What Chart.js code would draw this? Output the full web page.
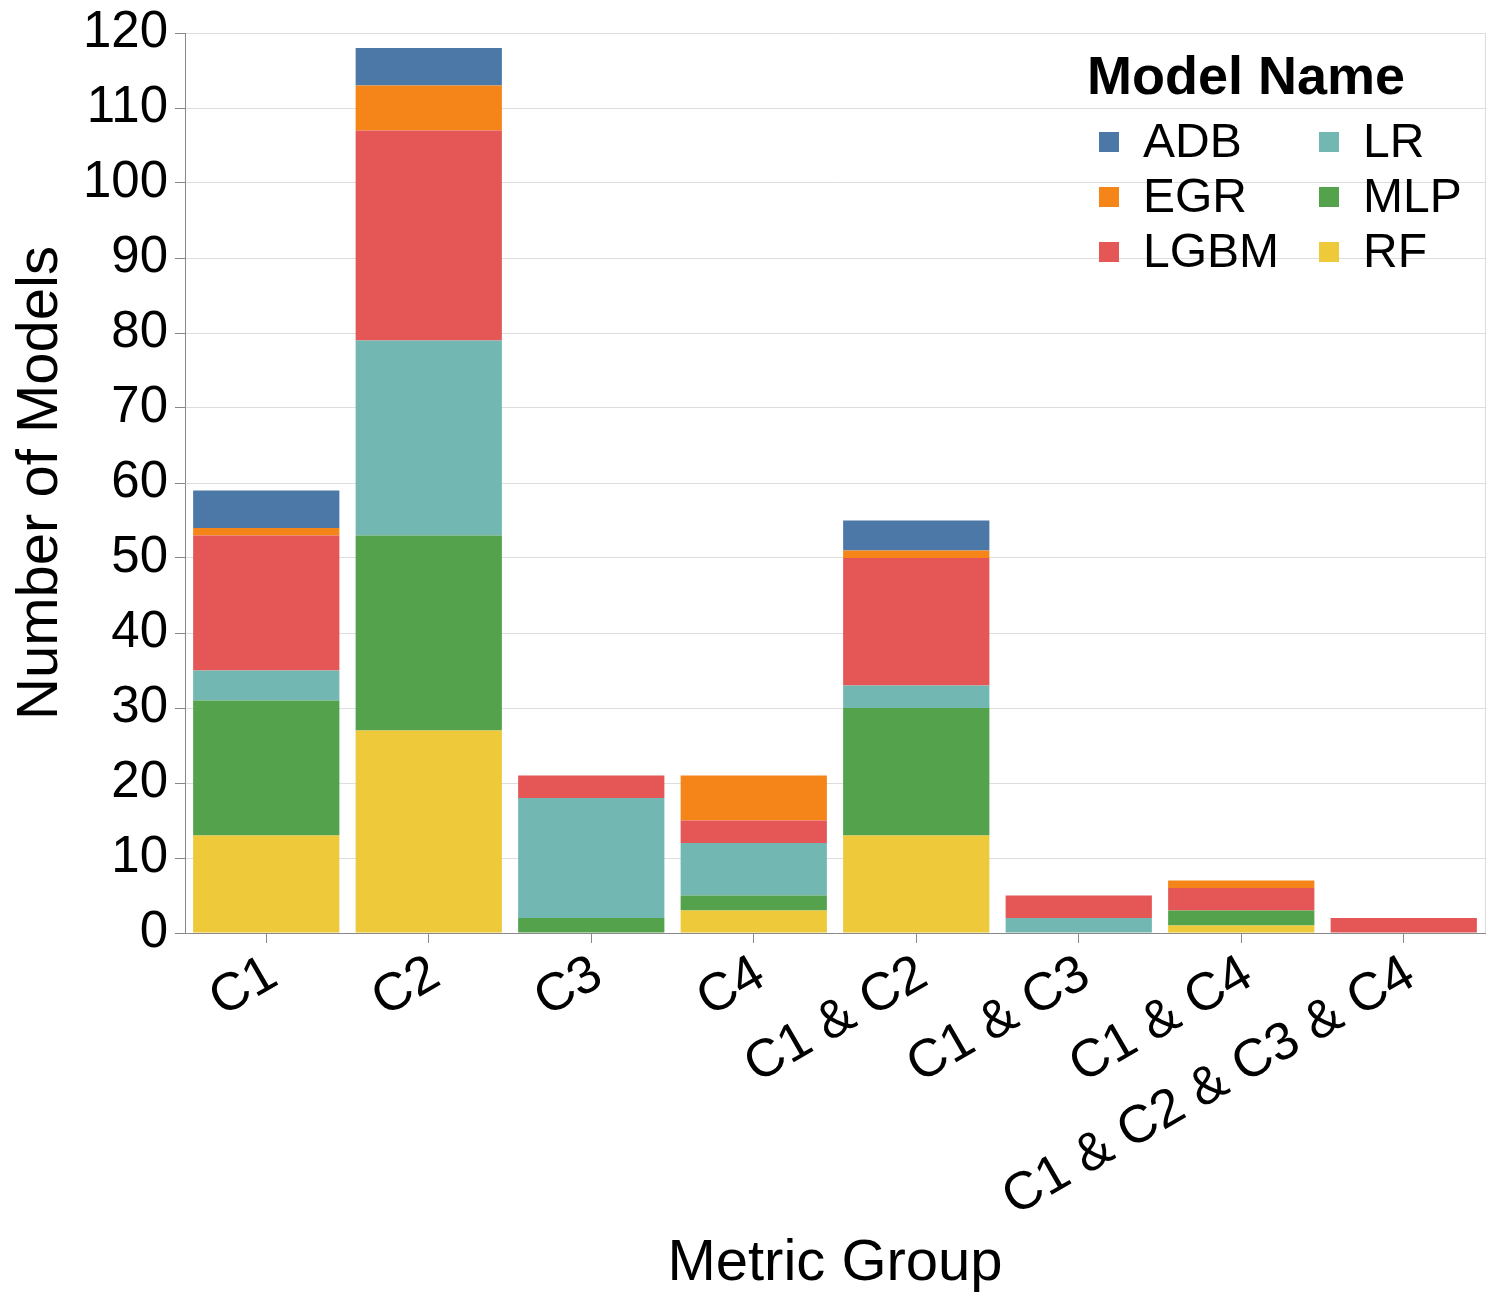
<!DOCTYPE html>
<html>
<head>
<meta charset="utf-8">
<script src="https://cdn.jsdelivr.net/npm/chart.js@4"></script>
<style>
  html, body { margin: 0; padding: 0; background: #fff; }
  #wrap { width: 1506px; height: 1306px; }
</style>
</head>
<body>
<div id="wrap"><canvas id="c" width="1506" height="1306"></canvas></div>
<script>
// ---- data ----
const categories = ["C1", "C2", "C3", "C4", "C1 & C2", "C1 & C3", "C1 & C4", "C1 & C2 & C3 & C4"];
const RF   = [13, 27, 0, 3, 13, 0, 1, 0];
const MLP  = [18, 26, 2, 2, 17, 0, 2, 0];
const LR   = [4, 26, 16, 7, 3, 2, 0, 0];
const LGBM = [18, 28, 3, 3, 17, 3, 3, 2];
const EGR  = [1, 6, 0, 6, 1, 0, 1, 0];
const ADB  = [5, 5, 0, 0, 4, 0, 0, 0];
const yTicks = [0, 10, 20, 30, 40, 50, 60, 70, 80, 90, 100, 110, 120];

const legendOrder = ["ADB", "EGR", "LGBM", "LR", "MLP", "RF"];
const colors = { ADB: "#4c78a8", EGR: "#f58518", LGBM: "#e45756", LR: "#72b7b2", MLP: "#54a24b", RF: "#eeca3b" };
const seriesValues = { RF, MLP, LR, LGBM, EGR, ADB };
const stackOrder = ["RF", "MLP", "LR", "LGBM", "EGR", "ADB"]; // bottom to top

const FONT = "'Liberation Sans', Arial, Helvetica, sans-serif";

const datasets = stackOrder.map(name => ({
  label: name,
  data: seriesValues[name],
  backgroundColor: colors[name],
  borderWidth: 0,
  barPercentage: 0.9,
  categoryPercentage: 1.0
}));

const legendPlugin = {
  id: 'customLegend',
  afterDraw(chart) {
    const ctx = chart.ctx;
    const ca = chart.chartArea;
    ctx.save();
    // right border of view
    ctx.strokeStyle = '#dddddd';
    ctx.lineWidth = 1;
    ctx.beginPath();
    ctx.moveTo(ca.right + 0.5, ca.top);
    ctx.lineTo(ca.right + 0.5, ca.bottom);
    ctx.stroke();

    const x0 = ca.right - 398;
    ctx.fillStyle = '#000';
    ctx.font = "bold 54px " + FONT;
    ctx.textBaseline = 'alphabetic';
    ctx.textAlign = 'left';
    ctx.fillText("Model Name", x0, ca.top + 61);
    ctx.font = "48px " + FONT;
    ctx.textBaseline = 'middle';
    const colX = [x0 + 12, x0 + 232];
    const rowY0 = ca.top + 109, rowH = 55;
    legendOrder.forEach((name, i) => {
      const col = Math.floor(i / 3), row = i % 3;
      const sx = colX[col], sy = rowY0 + row * rowH;
      ctx.fillStyle = colors[name];
      ctx.fillRect(sx, sy - 10, 20, 20);
      ctx.fillStyle = '#000';
      ctx.fillText(name, sx + 44, sy + 2);
    });
    ctx.restore();
  }
};

new Chart(document.getElementById('c'), {
  type: 'bar',
  data: { labels: categories, datasets },
  options: {
    responsive: false,
    animation: false,
    devicePixelRatio: 1,
    layout: { padding: { left: 0, right: 21, top: 33, bottom: 0 } },
    plugins: { legend: { display: false }, tooltip: { enabled: false } },
    scales: {
      x: {
        stacked: true,
        grid: { display: true, drawOnChartArea: false, drawTicks: true, tickLength: 10, tickColor: '#888888', offset: false },
        border: { color: '#888888', width: 1 },
        ticks: { color: '#000', font: { family: FONT, size: 53 }, maxRotation: 30, minRotation: 30, padding: 0, labelOffset: 7, autoSkip: false },
        title: { display: true, text: 'Metric Group', color: '#000', font: { family: FONT, size: 58 }, padding: { top: 0, bottom: 7 } },
        afterFit(scale) { scale.height = 1306 - 933; }
      },
      y: {
        stacked: true,
        min: 0, max: 120,
        afterBuildTicks(scale) { scale.ticks = yTicks.map(v => ({ value: v })); },
        grid: { color: '#dddddd', lineWidth: 1, drawTicks: true, tickLength: 10, tickColor: '#888888' },
        border: { color: '#888888', width: 1 },
        ticks: { color: '#000', font: { family: FONT, size: 51, lineHeight: 1.0 }, padding: 7 },
        title: { display: true, text: 'Number of Models', color: '#000', font: { family: FONT, size: 58 }, padding: { top: 6, bottom: 0 } },
        afterFit(scale) { scale.width = 185; }
      }
    }
  },
  plugins: [legendPlugin]
});
</script>
</body>
</html>
